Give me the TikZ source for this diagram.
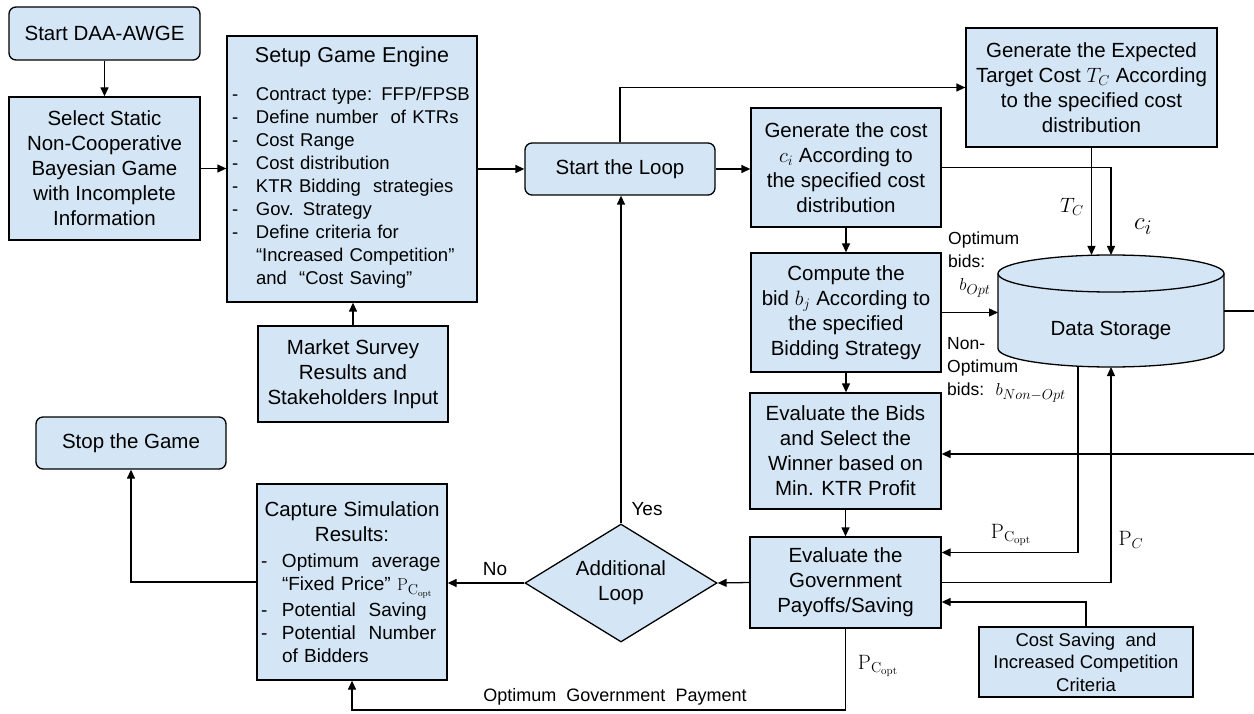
\documentclass[tikz,border=0pt]{standalone}
\usepackage[no-math]{fontspec}
\setmainfont{Liberation Sans}
\usepackage{amsmath}
\usepackage{tikz}
\usetikzlibrary{arrows.meta,shapes.geometric}

\definecolor{boxblue}{RGB}{212,230,245}
\newcommand{\mainsize}{\fontsize{20.5}{25}\selectfont}
\newcommand{\listsize}{\fontsize{18.5}{23}\selectfont}
\newcommand{\smallsize}{\fontsize{17.5}{23}\selectfont}
\newcommand{\dashitem}[1][21pt]{\makebox[#1][l]{-}}

\tikzset{
  box/.style={draw, fill=boxblue, line width=1.3pt, align=center, font=\mainsize, inner sep=2pt},
  rbox/.style={box, rounded corners=7pt},
  arr/.style={-{Triangle[length=9pt,width=8pt]}, line width=1.3pt},
  lbl/.style={inner sep=1pt, font=\smallsize}
}

\begin{document}
\begin{tikzpicture}[x=1pt,y=-1pt]
  \useasboundingbox (0,0) rectangle (1254,714);
  %\draw[very thin,lightgray] (0,0) grid[step=50] (1254,714);
  \node[rbox, minimum width=191pt, minimum height=53pt] (start) at (104.5,33.5) {Start DAA-AWGE};
  \node[box, minimum width=191pt, minimum height=143pt] (select) at (104.5,168.5)
    {Select Static\\Non-Cooperative\\Bayesian Game\\with Incomplete\\Information};
  \node[box, minimum width=250pt, minimum height=266pt, align=left, text width=240pt,
    inner sep=0pt, font=\listsize] (setup) at (352,169)
    {\makebox[240pt]{\fontsize{21.5}{26}\selectfont Setup Game Engine}\\[15pt]
     \dashitem[24pt]Contract type: FFP/FPSB\\
     \dashitem[24pt]Define number \ of KTRs\\
     \dashitem[24pt]Cost Range\\
     \dashitem[24pt]Cost distribution\\
     \dashitem[24pt]KTR Bidding \ strategies\\
     \dashitem[24pt]Gov. Strategy\\
     \dashitem[24pt]Define criteria for\\
     \hspace*{24pt}``Increased Competition''\\
     \hspace*{24pt}and \ ``Cost Saving''\rule[-7pt]{0pt}{0pt}};
  \node[box, minimum width=190pt, minimum height=96pt] (market) at (353,374)
    {Market Survey\\Results and\\Stakeholders Input};
  \node[rbox, minimum width=190pt, minimum height=52pt] (loop) at (620,169) {Start the Loop};
  \node[box, minimum width=190pt, minimum height=119pt] (gencost) at (846,167.5)
    {Generate the cost\\$c_i$ According to\\the specified cost\\distribution};
  \node[box, minimum width=251pt, minimum height=119pt] (target) at (1091.5,87.5)
    {Generate the Expected\\Target Cost $T_C$ According\\to the specified cost\\distribution};
  \node[box, minimum width=190pt, minimum height=119pt] (bid) at (846,312.5)
    {Compute the\\bid $b_j$ According to\\the specified\\Bidding Strategy};
  \node[box, minimum width=191pt, minimum height=116pt] (evalbids) at (845.5,451)
    {Evaluate the Bids\\and Select the\\Winner based on\\Min. KTR Profit};
  \node[box, minimum width=191pt, minimum height=91pt] (govt) at (845.5,582.5)
    {Evaluate the\\Government\\Payoffs/Saving};
  \node[box, minimum width=214pt, minimum height=70pt, font=\fontsize{18.5}{22.5}\selectfont]
    (costsave) at (1086,662) {Cost Saving \ and\\Increased Competition\\Criteria};
  % data storage: cylinder drawn round an empty node
  \node[minimum width=226pt, minimum height=112pt, inner sep=0pt, outer sep=0pt] (ds) at (1111,311) {};
  \draw[line width=1.3pt, fill=boxblue] ([yshift=37.5pt]ds.west) -- ([yshift=-37.5pt]ds.west)
    arc[start angle=180, end angle=360, x radius=113pt, y radius=18.5pt]
    -- ([yshift=37.5pt]ds.east)
    arc[start angle=0, end angle=180, x radius=113pt, y radius=18.5pt] -- cycle;
  \draw[line width=1.3pt] ([yshift=37.5pt]ds.west)
    arc[start angle=180, end angle=360, x radius=113pt, y radius=18.5pt];
  \node[font=\mainsize] (dslbl) at ([yshift=-19pt]ds.center) {Data Storage};
  \node[rbox, minimum width=190pt, minimum height=52pt] (stop) at (131,443) {Stop the Game};
  \node[box, diamond, aspect=1.63, inner sep=0pt, minimum width=192pt, minimum height=118pt]
    (dec) at (621,583) {Additional\\Loop};
  \node[box, minimum width=190pt, minimum height=196pt, align=left, text width=182pt,
    inner sep=0pt, font=\fontsize{19}{23}\selectfont] (capture) at (352,582)
    {\makebox[182pt]{\mainsize Capture Simulation}\\[2pt]
     \makebox[182pt]{\mainsize Results:}\\[3pt]
     \dashitem Optimum \ average\\
     \hspace*{21pt}``Fixed Price'' $\mathrm{P}_{\mathrm{C}_{\mathrm{opt}}}$\\[3pt]
     \dashitem Potential \ Saving\\
     \dashitem Potential \ Number\\
     \hspace*{21pt}of Bidders};

  \coordinate (rim) at (1262,0);
  \coordinate (base) at (0,710);

  \draw[arr] (start) -- (select);
  \draw[arr] (select.east) -- (select.east -| setup.west);
  \draw[arr] (market.north) -- (market.north |- setup.south);
  \draw[arr] (setup.east |- loop.west) -- (loop.west);
  \draw[arr] (loop.east) -- (loop.east -| gencost.west);
  \draw[arr] (loop.north) |- (target.west);
  \draw[arr] (gencost.east) -| (ds.north);
  \draw[arr] (target.south) -- (target.south |- ds.north);
  \draw[arr] (gencost.south) -- (bid.north);
  \draw[arr] (bid.east) -- (bid.east -| ds.west);
  \draw[arr] (bid.south) -- (bid.south |- evalbids.north);
  \draw[arr] (evalbids.south) -- (govt.north);
  \draw[arr] (ds.east) -- (ds.east -| rim) -- ([yshift=-3pt]evalbids.east -| rim) -- ([yshift=-3pt]evalbids.east);
  \draw[arr] ([xshift=-33pt,yshift=1pt]ds.south) |- ([yshift=30pt]govt.east);
  \draw[arr] (govt.east) -| (ds.south);
  \draw[arr] (costsave.north) |- ([yshift=-19.5pt]govt.east);
  \draw[arr] (govt.west) -- (dec.east);
  \draw[arr] (dec.north) -- (dec.north |- loop.south);
  \draw[arr] (dec.west) -- (dec.west -| capture.east);
  \draw[arr] (capture.west) -| (stop.south);
  \draw[arr] (govt.south) -- (govt.south |- base) -| (capture.south);

  % labels on the connectors
  \node[lbl, font=\fontsize{22}{26}\selectfont] (tclbl) at (1072,207) {$T_C$};
  \node[lbl, font=\fontsize{31}{33}\selectfont] (cilbl) at (1143,227) {$c_i$};
  \node[lbl, align=left, anchor=west] (optlbl) at (947,250) {Optimum\\bids:};
  \node[lbl, font=\fontsize{19}{23}\selectfont] (boptlbl) at (975,288) {$b_{Opt}$};
  \node[lbl, align=left, anchor=west] (nonoptlbl) at (946,370)
    {Non-\\Optimum\\bids: \ {\fontsize{19}{23}\selectfont$b_{Non-Opt}$}};
  \node[lbl, font=\fontsize{22}{26}\selectfont] (popt1) at (1011,535) {$\mathrm{P}_{\mathrm{C}_{\mathrm{opt}}}$};
  \node[lbl, font=\fontsize{22}{26}\selectfont] (pclbl) at (1131,540) {$\mathrm{P}_C$};
  \node[lbl, font=\fontsize{22}{26}\selectfont] (popt2) at (878,666) {$\mathrm{P}_{\mathrm{C}_{\mathrm{opt}}}$};
  \node[lbl, font=\fontsize{18}{22}\selectfont] (paylbl) at (615,697) {Optimum \ Government \ Payment};
  \node[lbl, font=\fontsize{19}{23}\selectfont] (yeslbl) at (647,509) {Yes};
  \node[lbl, font=\fontsize{19}{23}\selectfont] (nolbl) at (495,569) {No};
\end{tikzpicture}
\end{document}
